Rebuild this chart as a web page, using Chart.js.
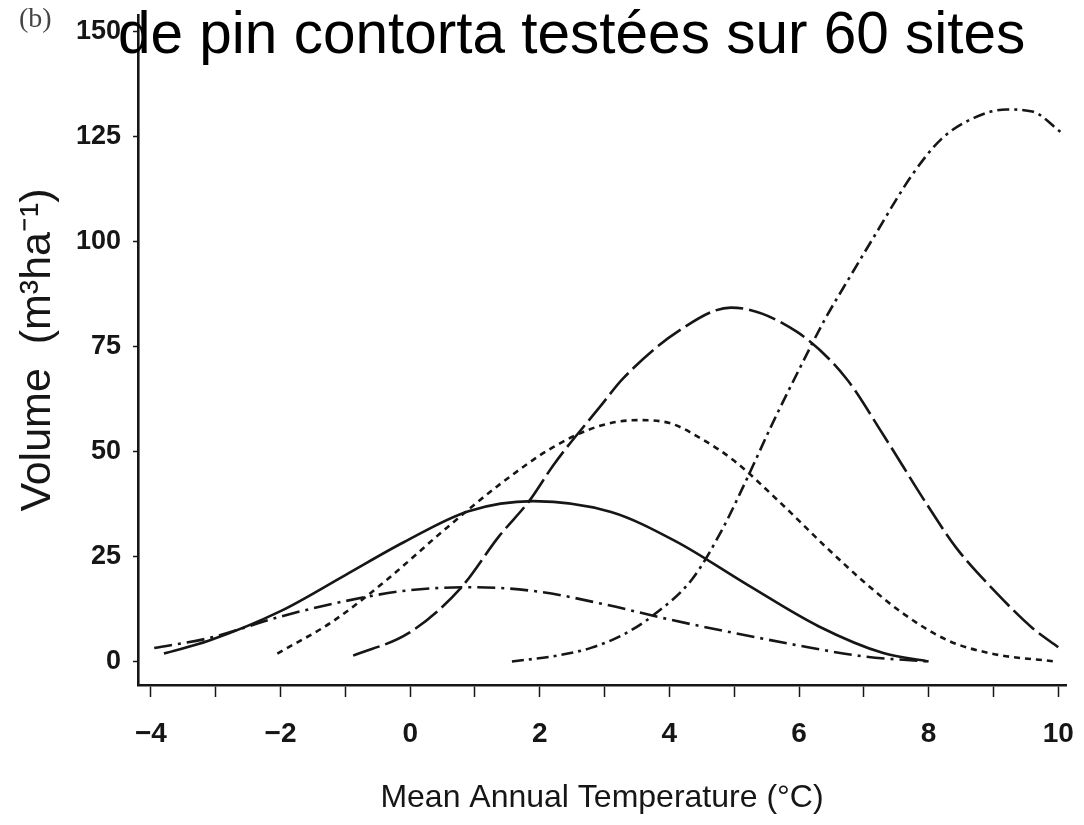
<!DOCTYPE html>
<html>
<head>
<meta charset="utf-8">
<title>Volume vs mean annual temperature</title>
<script src="https://cdn.jsdelivr.net/npm/chart.js@4.4.0/dist/chart.umd.min.js"></script>
<style>
  html, body { margin: 0; padding: 0; background: #fff; }
  #wrap { width: 1084px; height: 825px; position: relative; }
</style>
</head>
<body>
<div id="wrap"><canvas id="chart" width="1084" height="825"></canvas></div>
<script>
// ====== Data ======
const titleText = 'de pin contorta testées sur 60 sites';
const panelLabel = '(b)';
const xAxisTitle = 'Mean Annual Temperature (°C)';
const yAxisTitle = 'Volume  (m³ha⁻¹)';

// tick marks every degree, labels on even ones
const xTickPositions = [-4, -3, -2, -1, 0, 1, 2, 3, 4, 5, 6, 7, 8, 9, 10];
const xTickValues = [-4, -2, 0, 2, 4, 6, 8, 10];
const xTickLabels = ['−4', '−2', '0', '2', '4', '6', '8', '10'];
const yTickValues = [0, 25, 50, 75, 100, 125, 150];

// solid line
const tempSolid = [-3.8, -3.1, -2, -1, -0.1, 0.9, 1.9, 3.1, 4.1, 5.2, 6.3, 7.3, 8];
const volSolid  = [1.9, 5, 12, 20.6, 28.4, 35.8, 38.2, 35.6, 28.6, 18.3, 8.4, 2, 0];

// long dash + dot, low flat curve
const tempLowDashDot = [-3.95, -3.1, -2, -1, 0, 1, 2, 3, 4, 5, 6, 7, 8];
const volLowDashDot  = [3.2, 5.6, 10.7, 14.4, 17, 17.7, 16.6, 13.6, 10, 6.8, 3.8, 1.2, 0];

// short dashes
const tempShortDash = [-2.05, -1.2, -0.35, 0.5, 1.4, 2.2, 2.9, 3.5, 4.0, 4.5, 5.0, 5.7, 6.4, 7.0, 7.6, 8.3, 9.0, 9.95];
const volShortDash  = [1.9, 9.5, 19.6, 31, 42.4, 51, 56, 57.5, 56.8, 53, 47.8, 38, 27.5, 19, 11.5, 5, 1.8, 0];

// long dashes
const tempLongDash = [-0.88, -0.02, 0.78, 1.37, 1.85, 2.22, 2.93, 3.29, 4.15, 4.95, 5.97, 6.72, 7.3, 8.0, 8.43, 9.05, 9.6, 10.0];
const volLongDash  = [1.4, 6.8, 17.5, 29.8, 38.5, 47, 60.7, 67.5, 78.8, 84.3, 78.5, 67.6, 54, 36.8, 27, 16.3, 8, 3.4];

// dash + dot, big warm curve
const tempDashDot = [1.57, 2.3, 2.8, 3.3, 3.75, 4.35, 4.8, 5.15, 5.6, 6.0, 6.4, 6.8, 7.15, 7.75, 8.2, 8.7, 9.2, 9.6, 10.05];
const volDashDot  = [0, 1.5, 3.3, 6.5, 11, 19.6, 31, 42, 57, 69.5, 81.5, 92, 101, 116, 124.5, 129.5, 131.5, 131, 126];

// ====== Helpers ======
const ink = '#161616';
const plain = "'Liberation Sans', Arial, sans-serif";

function pts(xs, ys) {
    return xs.map((x, i) => ({ x: x, y: ys[i] }));
}

function curve(label, xs, ys, dash) {
    return {
        label: label,
        data: pts(xs, ys),
        borderColor: ink,
        borderWidth: 2.6,
        borderDash: dash,
        pointRadius: 0,
        fill: false,
        cubicInterpolationMode: 'monotone'
    };
}

// title and panel letter sit over the plot, so draw them after everything else
const overlayText = {
    id: 'overlayText',
    afterDraw(chart) {
        const ctx = chart.ctx;
        ctx.save();
        ctx.fillStyle = '#444';
        ctx.font = "28px 'Liberation Serif', 'DejaVu Serif', serif";
        ctx.textBaseline = 'alphabetic';
        ctx.fillText(panelLabel, 19, 27);
        ctx.fillStyle = '#000';
        ctx.font = "58.5px " + plain;
        ctx.fillText(titleText, 118, 53);
        ctx.restore();
    }
};

// ====== Chart ======
const ctx = document.getElementById('chart').getContext('2d');
new Chart(ctx, {
    type: 'line',
    data: {
        datasets: [
            curve('solid', tempSolid, volSolid, []),
            curve('low dash-dot', tempLowDashDot, volLowDashDot, [18, 6, 3, 6]),
            curve('short dash', tempShortDash, volShortDash, [6, 5]),
            curve('long dash', tempLongDash, volLongDash, [28, 6]),
            curve('dash-dot', tempDashDot, volDashDot, [12, 5, 3, 5])
        ]
    },
    options: {
        responsive: false,
        animation: false,
        devicePixelRatio: 1,
        layout: { padding: { top: 15, right: 18, left: 0, bottom: 0 } },
        plugins: {
            legend: { display: false },
            tooltip: { enabled: false },
            title: { display: false }
        },
        scales: {
            x: {
                type: 'linear',
                min: -4.2,
                max: 10.12,
                afterFit: s => { s.height = 140; s.paddingLeft = 0; s.paddingRight = 0; },
                afterBuildTicks: s => { s.ticks = xTickPositions.map(v => ({ value: v })); },
                border: { display: true, color: ink, width: 2.6 },
                grid: { display: true, drawOnChartArea: false, drawTicks: true, tickLength: 12, tickColor: ink, tickWidth: 1.5 },
                ticks: {
                    color: ink,
                    padding: 20,
                    maxRotation: 0,
                    autoSkip: false,
                    font: { family: plain, size: 28, weight: 'bold' },
                    callback: v => {
                        const i = xTickValues.indexOf(v);
                        return i >= 0 ? xTickLabels[i] : '';
                    }
                },
                title: {
                    display: true,
                    text: xAxisTitle,
                    color: ink,
                    padding: { top: 0, bottom: 8 },
                    font: { family: plain, size: 32 }
                }
            },
            y: {
                type: 'linear',
                min: -5.6,
                max: 154,
                afterFit: s => { s.width = 138; s.paddingTop = 0; s.paddingBottom = 0; },
                afterBuildTicks: s => { s.ticks = yTickValues.map(v => ({ value: v })); },
                border: { display: true, color: ink, width: 2.6 },
                grid: { display: true, drawOnChartArea: false, drawTicks: true, tickLength: 5, tickColor: ink, tickWidth: 1.5 },
                ticks: {
                    color: ink,
                    padding: 12,
                    autoSkip: false,
                    font: { family: plain, size: 27, weight: 'bold' }
                },
                title: {
                    display: true,
                    text: yAxisTitle,
                    color: ink,
                    padding: { top: 12, bottom: 0 },
                    font: { family: plain, size: 43 }
                }
            }
        }
    },
    plugins: [overlayText]
});
</script>
</body>
</html>
